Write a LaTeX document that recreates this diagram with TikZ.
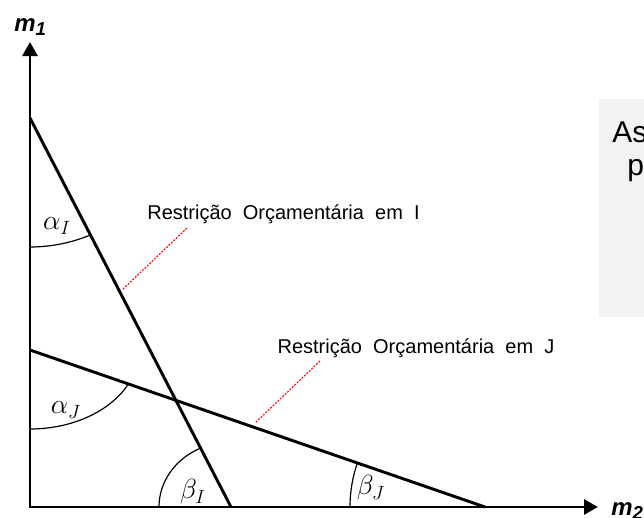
\documentclass[tikz,border=0pt]{standalone}
\usepackage{amsmath}
\usepackage{fontspec}
\setmainfont{Liberation Sans}
\newfontfamily\widefont[WordSpace=2]{Liberation Sans}
\usetikzlibrary{arrows.meta}

\begin{document}
\begin{tikzpicture}[x=0.75pt, y=-0.75pt, >={Triangle[length=10.5pt, width=11.25pt]},
  axis/.style={line width=2.2pt, line join=miter},
  budget/.style={line width=2.2pt},
  angarc/.style={line width=0.9pt},
  leader/.style={red, line width=0.8pt, dash pattern=on 1.5pt off 1pt},
  lbl/.style={inner sep=0pt, font=\widefont\fontsize{15}{18}\selectfont},
  ang/.style={inner sep=0pt, font=\fontsize{19.5}{22}\selectfont},
  axlbl/.style={anchor=base west, inner sep=0pt, font=\bfseries\itshape\fontsize{18}{21}\selectfont}]
  \useasboundingbox (0,0) rectangle (644,518);

  % Note box at the right (cut off)
  \fill[gray!10] (599,99) rectangle (660,317);
  \node[anchor=base west, inner sep=0pt, font=\fontsize{22.5}{27}\selectfont] (note_a) at (612,142) {As};
  \node[anchor=base west, inner sep=0pt, font=\fontsize{22.5}{27}\selectfont] (note_b) at (627,175) {p};

  % Axes
  \coordinate (O) at (30,507);
  \coordinate (Y_tip) at (30,42);
  \coordinate (X_tip) at (598,507);
  \draw[axis, <->] (Y_tip) -- (O) -- (X_tip);

  % Budget lines I and J
  \coordinate (I_top) at (30,118);
  \coordinate (I_bot) at (231,507);
  \coordinate (J_top) at (30,350);
  \coordinate (J_bot) at (485,507);
  \draw[budget] (I_top) -- (I_bot);
  \draw[budget] (J_top) -- (J_bot);

  % Angles
  \draw[angarc] (I_top) ++(0,129) arc[start angle=90, end angle=65, x radius=143, y radius=129];
  \draw[angarc] (J_top) ++(0,79) arc[start angle=90, end angle=26, x radius=109, y radius=79];
  \draw[angarc] (I_bot) ++(-72,0) arc[start angle=180, end angle=244.5, x radius=72, y radius=65];
  \draw[angarc] (J_bot) ++(-135,0) arc[start angle=180, end angle=199, radius=135];
  \node[ang] (alpha_I) at (57,226) {$\alpha_I$};
  \node[ang] (alpha_J) at (66,410) {$\alpha_J$};
  \node[ang] (beta_I) at (193,492) {$\beta_I$};
  \node[ang] (beta_J) at (371,488) {$\beta_J$};

  % Labels of the lines
  \node[lbl] (lab_I) at (283.5,214) {Restrição Orçamentária em I};
  \node[lbl] (lab_J) at (416,348) {Restrição Orçamentária em J};
  \coordinate (lead_I_a) at (187,228);
  \coordinate (lead_I_b) at (122,290);
  \coordinate (lead_J_a) at (320,361);
  \coordinate (lead_J_b) at (255,423);
  \draw[leader] (lead_I_a) -- (lead_I_b);
  \draw[leader] (lead_J_a) -- (lead_J_b);

  % Axis labels
  \node[axlbl] (m_one) at (14,31) {m\raisebox{-3pt}{\fontsize{14}{16}\selectfont 1}};
  \node[axlbl] (m_two) at (611,515) {m\raisebox{-3pt}{\fontsize{14}{16}\selectfont 2}};
\end{tikzpicture}
\end{document}
